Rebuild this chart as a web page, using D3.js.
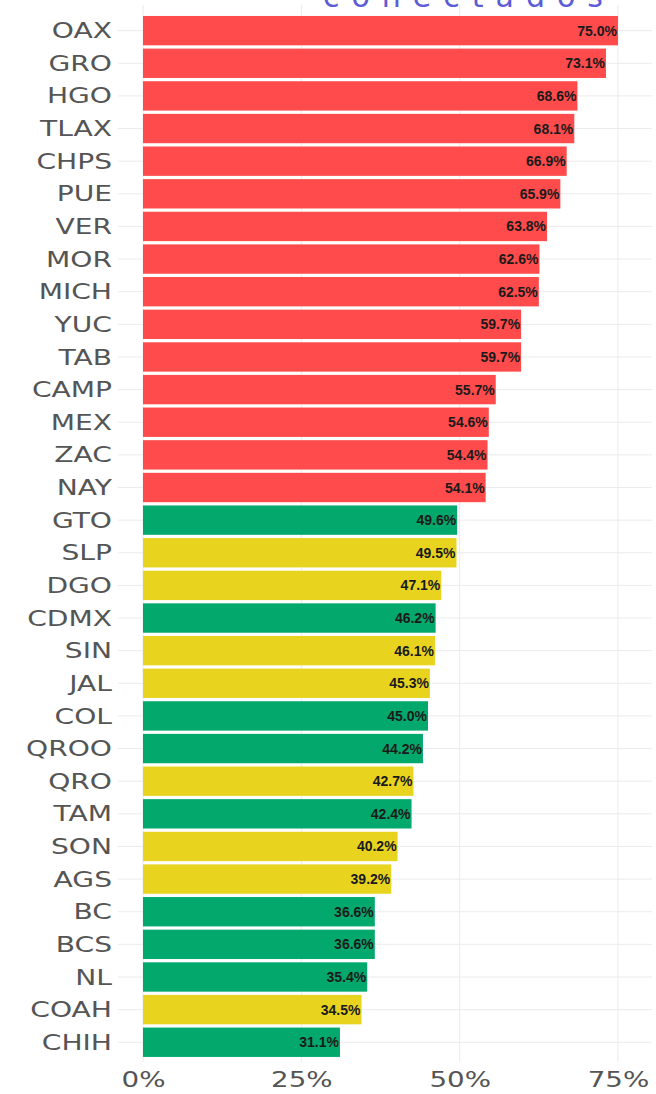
<!DOCTYPE html>
<html>
<head>
<meta charset="utf-8">
<script src="https://cdn.jsdelivr.net/npm/d3@7"></script>
<style>
  body { margin: 0; background: #fff; }
  svg { display: block; }
</style>
</head>
<body>
<div id="chart"></div>
<script>
// estados ordenados de mayor a menor
var states = ["OAX", "GRO", "HGO", "TLAX", "CHPS", "PUE", "VER", "MOR", "MICH", "YUC", "TAB", "CAMP", "MEX", "ZAC", "NAY",
    "GTO", "SLP", "DGO", "CDMX", "SIN", "JAL", "COL", "QROO", "QRO", "TAM", "SON", "AGS", "BC", "BCS", "NL", "COAH", "CHIH"];
var values = [75.0, 73.1, 68.6, 68.1, 66.9, 65.9, 63.8, 62.6, 62.5, 59.7, 59.7, 55.7, 54.6, 54.4, 54.1,
    49.6, 49.5, 47.1, 46.2, 46.1, 45.3, 45.0, 44.2, 42.7, 42.4, 40.2, 39.2, 36.6, 36.6, 35.4, 34.5, 31.1];
var groups = ["r", "r", "r", "r", "r", "r", "r", "r", "r", "r", "r", "r", "r", "r", "r",
    "g", "y", "y", "g", "y", "y", "g", "g", "y", "g", "y", "y", "g", "g", "g", "y", "g"];
var xTicks = [0, 25, 50, 75];
var title = "conectados";

var width = 656, height = 1094;

var data = states.map(function (s, i) {
    return {state: s, value: values[i], group: groups[i]};
});

var color = d3.scaleOrdinal()
    .domain(["r", "g", "y"])
    .range(["#ff4b4b", "#03a86c", "#e8d41f"]);

var x = d3.scaleLinear().domain([0, 75]).range([143, 618]);

var y = d3.scaleBand()
    .domain(states)
    .range([12.7, 1060.2])
    .padding(0.1);

var svg = d3.select("#chart").append("svg")
    .attr("width", width)
    .attr("height", height);

// titulo (cortado arriba, como en la imagen)
svg.append("text")
    .attr("x", 323)
    .attr("y", 7)
    .attr("font-family", "DejaVu Sans")
    .attr("font-size", 30)
    .attr("letter-spacing", 12)
    .attr("fill", "#5c5cd6")
    .text(title);

// grid
var grid = svg.append("g");
grid.selectAll(".hline")
    .data(states)
    .enter().append("line")
    .attr("x1", 118).attr("x2", 652)
    .attr("y1", function (d) { return y(d) + y.bandwidth() / 2; })
    .attr("y2", function (d) { return y(d) + y.bandwidth() / 2; })
    .attr("stroke", "#ebebeb")
    .attr("stroke-width", 1);

grid.selectAll(".vline")
    .data(xTicks)
    .enter().append("line")
    .attr("x1", function (d) { return x(d); })
    .attr("x2", function (d) { return x(d); })
    .attr("y1", 5).attr("y2", 1062)
    .attr("stroke", "#ebebeb")
    .attr("stroke-width", 1);

// barras
svg.selectAll(".bar")
    .data(data)
    .enter().append("rect")
    .attr("class", "bar")
    .attr("x", x(0))
    .attr("y", function (d) { return y(d.state); })
    .attr("width", function (d) { return x(d.value) - x(0); })
    .attr("height", y.bandwidth())
    .attr("fill", function (d) { return color(d.group); });

// etiquetas de valor
svg.selectAll(".val")
    .data(data)
    .enter().append("text")
    .attr("x", function (d) { return x(d.value) - 1; })
    .attr("y", function (d) { return y(d.state) + y.bandwidth() / 2 + 5; })
    .attr("text-anchor", "end")
    .attr("font-family", "Liberation Sans")
    .attr("font-weight", "bold")
    .attr("font-size", 14)
    .attr("fill", "#1a1a1a")
    .text(function (d) { return d.value.toFixed(1) + "%"; });

// eje y
var yAxis = svg.append("g")
    .attr("transform", "translate(112,0)")
    .call(d3.axisLeft(y).tickSize(0).tickPadding(0));
yAxis.select(".domain").remove();
yAxis.selectAll("text")
    .attr("font-family", "DejaVu Sans")
    .attr("font-size", 21)
    .attr("fill", "#555")
    .attr("dy", "0.36em")
    .attr("transform", "scale(1.34,1)")
    .attr("x", 0);

// eje x
var xAxis = svg.append("g")
    .attr("transform", "translate(0,1062)")
    .call(d3.axisBottom(x).tickValues(xTicks).tickSize(0).tickPadding(10)
        .tickFormat(function (d) { return d + "%"; }));
xAxis.select(".domain").remove();
xAxis.selectAll("text")
    .attr("font-family", "DejaVu Sans")
    .attr("font-size", 21)
    .attr("fill", "#555")
    .attr("dy", "0.71em")
    .attr("transform", "scale(1.32,1)");
</script>
</body>
</html>
